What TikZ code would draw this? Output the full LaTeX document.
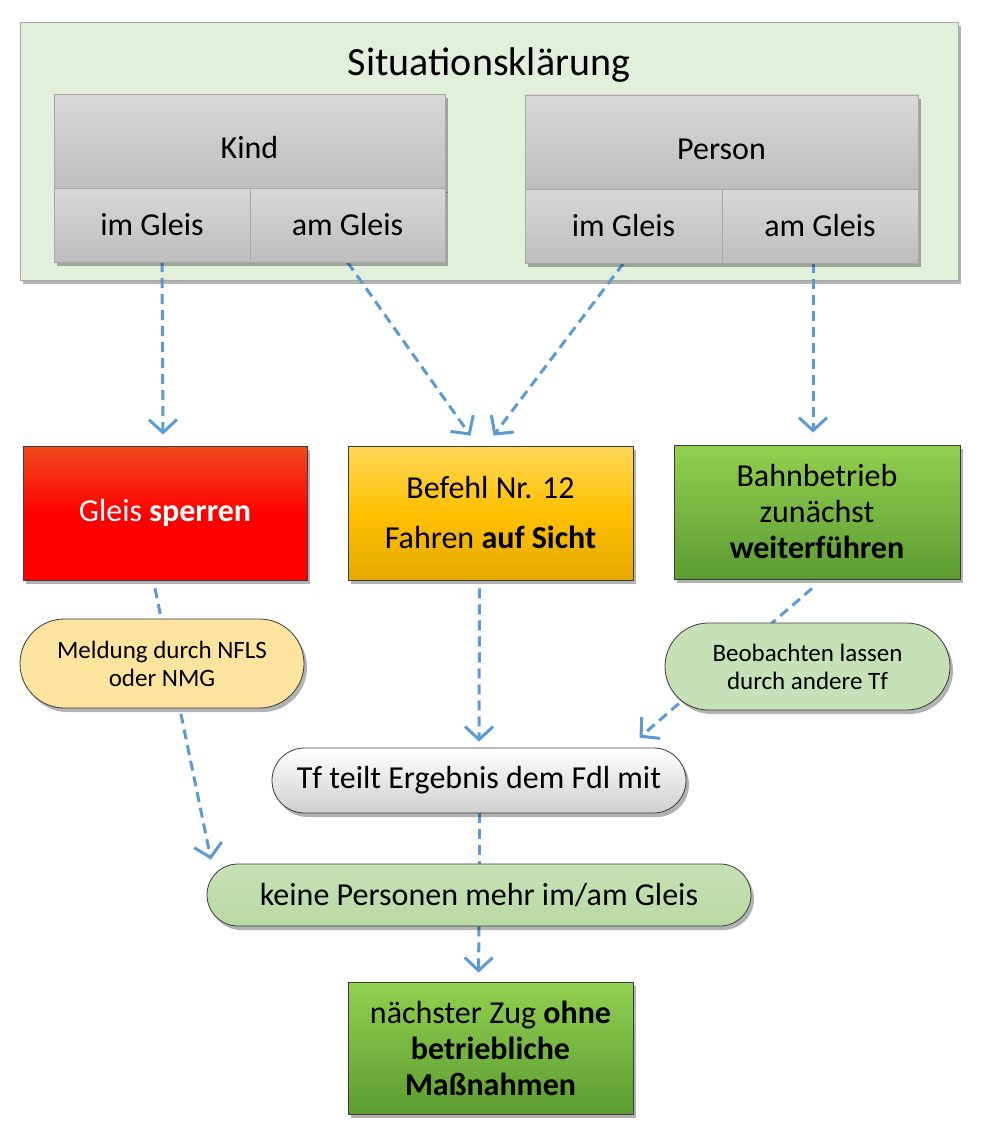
\documentclass[tikz,border=0pt]{standalone}
\usepackage{fontspec}
\setmainfont{Carlito}
\usetikzlibrary{arrows.meta,shadows,shapes.misc}
\definecolor{frameFill}{HTML}{E2EFDA}
\definecolor{frameLine}{HTML}{A8A8A8}
\definecolor{cellTop}{HTML}{D8D8D8}
\definecolor{cellBottom}{HTML}{BEBEBE}
\definecolor{redTop}{HTML}{F04A1E}
\definecolor{goldTop}{HTML}{FFD85A}
\definecolor{goldMid}{HTML}{FFC000}
\definecolor{goldBottom}{HTML}{E3A900}
\definecolor{greenTop}{HTML}{92D050}
\definecolor{greenBottom}{HTML}{5C9C32}
\definecolor{paleYellow}{HTML}{FDE49E}
\definecolor{paleGreen}{HTML}{C7E1B6}
\definecolor{paleGreenDark}{HTML}{B9D9A4}
\definecolor{grayBottom}{HTML}{CFCFCF}
\definecolor{flowBlue}{HTML}{5B9BD5}
\definecolor{boxLine}{HTML}{3C3C3C}
\pgfdeclarelayer{background}
\pgfsetlayers{background,main}

\begin{document}
\begin{tikzpicture}[x=1pt,y=-1pt,
    shade/.style={drop shadow={shadow xshift=3pt,shadow yshift=-4pt,fill=black,opacity=.3}},
    cell/.style={shade,draw=frameLine,top color=cellTop,bottom color=cellBottom,inner sep=0pt,
      minimum height=74pt,font=\fontsize{32}{38}\selectfont},
    topcell/.style={cell,minimum height=94pt,text height=34pt,text depth=0pt},
    act/.style={shade,draw=boxLine,line width=.8pt,inner sep=0pt,minimum width=285pt,
      minimum height=134pt,align=center,font=\fontsize{32}{36}\selectfont},
    pill/.style={rounded rectangle,shade,draw=boxLine,line width=.8pt,inner sep=0pt,
      align=center},
    flow/.style={draw=flowBlue,line width=3pt,dash pattern=on 10pt off 6pt,
      -{Straight Barb[length=13pt,width=28pt]}},
    flowline/.style={draw=flowBlue,line width=3pt,dash pattern=on 10pt off 6pt}]
  \useasboundingbox (0,0) rectangle (980,1145);

  \begin{pgfonlayer}{background}
    \node[shade,draw=frameLine,fill=frameFill,minimum width=938pt,minimum height=258pt] (situation) at (489,151) {};
  \end{pgfonlayer}
  \node[font=\fontsize{40}{48}\selectfont] (title) at (489,65) {Situationsklärung};

  % Kind / Person
  \node[topcell,minimum width=391pt] (kind) at (249.5,141.5) {Kind};
  \node[cell,minimum width=196pt] (kindIm) at (152,225) {im Gleis};
  \node[cell,minimum width=195pt] (kindAm) at (347.5,225) {am Gleis};
  \node[topcell,minimum width=393pt] (person) at (721.5,142) {Person};
  \node[cell,minimum width=197pt] (personIm) at (623.5,226) {im Gleis};
  \node[cell,minimum width=196pt] (personAm) at (820,226) {am Gleis};

  % Massnahmen
  \node[act,top color=redTop,bottom color=red,middle color=red,text=white,minimum width=284pt] (gleis) at (165,513) {Gleis \textbf{sperren}};
  \node[act,top color=goldTop,bottom color=goldBottom,middle color=goldMid] (befehl) at (490.5,513) {Befehl Nr. 12\\[14pt]Fahren \textbf{auf Sicht}};
  \node[act,top color=greenTop,bottom color=greenBottom,minimum width=286pt] (bahn) at (817,512) {Bahnbetrieb\\zunächst\\\textbf{weiterführen}};

  \node[pill,fill=paleYellow,minimum width=284pt,minimum height=89pt,font=\fontsize{25}{28}\selectfont] (meldung) at (162,663.5) {Meldung durch NFLS\\oder NMG};
  \node[pill,fill=paleGreen,minimum width=285pt,minimum height=87pt,font=\fontsize{25}{28}\selectfont] (beob) at (807.5,666.5) {Beobachten lassen\\durch andere Tf};

  \node[pill,top color=white,bottom color=grayBottom,minimum width=414pt,minimum height=65pt,font=\fontsize{32}{38}\selectfont] (tf) at (479,780.5) {Tf teilt Ergebnis dem Fdl mit};
  \node[pill,top color=paleGreen,bottom color=paleGreenDark,minimum width=544pt,minimum height=62pt,font=\fontsize{32}{38}\selectfont] (keine) at (479,895) {keine Personen mehr im/am Gleis};

  \node[act,top color=greenTop,bottom color=greenBottom,minimum height=132pt] (naechst) at (490.5,1048) {nächster Zug \textbf{ohne}\\\textbf{betriebliche}\\\textbf{Maßnahmen}};

  \begin{pgfonlayer}{background}
    \draw[flow] ([xshift=10pt]kindIm.south) -- ([xshift=-2pt,yshift=11pt]gleis.north);
    \draw[flow] (kindAm.south) -- ([xshift=-20pt,yshift=10pt]befehl.north);
    \draw[flow] (personIm.south) -- ([xshift=3pt,yshift=10pt]befehl.north);
    \draw[flow] ([xshift=-7pt]personAm.south) -- ([xshift=-4pt,yshift=12pt]bahn.north);
    \draw[flow] ([xshift=-10pt,yshift=-8pt]gleis.south) -- ([xshift=-268pt,yshift=4pt]keine.north);
    \draw[flow] ([xshift=-11pt,yshift=-8pt]befehl.south) -- ([yshift=6pt]tf.north);
    \draw[flow] ([xshift=-5pt,yshift=-9pt]bahn.south) -- ([xshift=-14pt,yshift=10pt]tf.north east);
    \draw[flowline] (tf.south) -- (keine.north);
    \draw[flow] (keine.south) -- ([xshift=-12pt,yshift=9pt]naechst.north);
  \end{pgfonlayer}
\end{tikzpicture}
\end{document}
